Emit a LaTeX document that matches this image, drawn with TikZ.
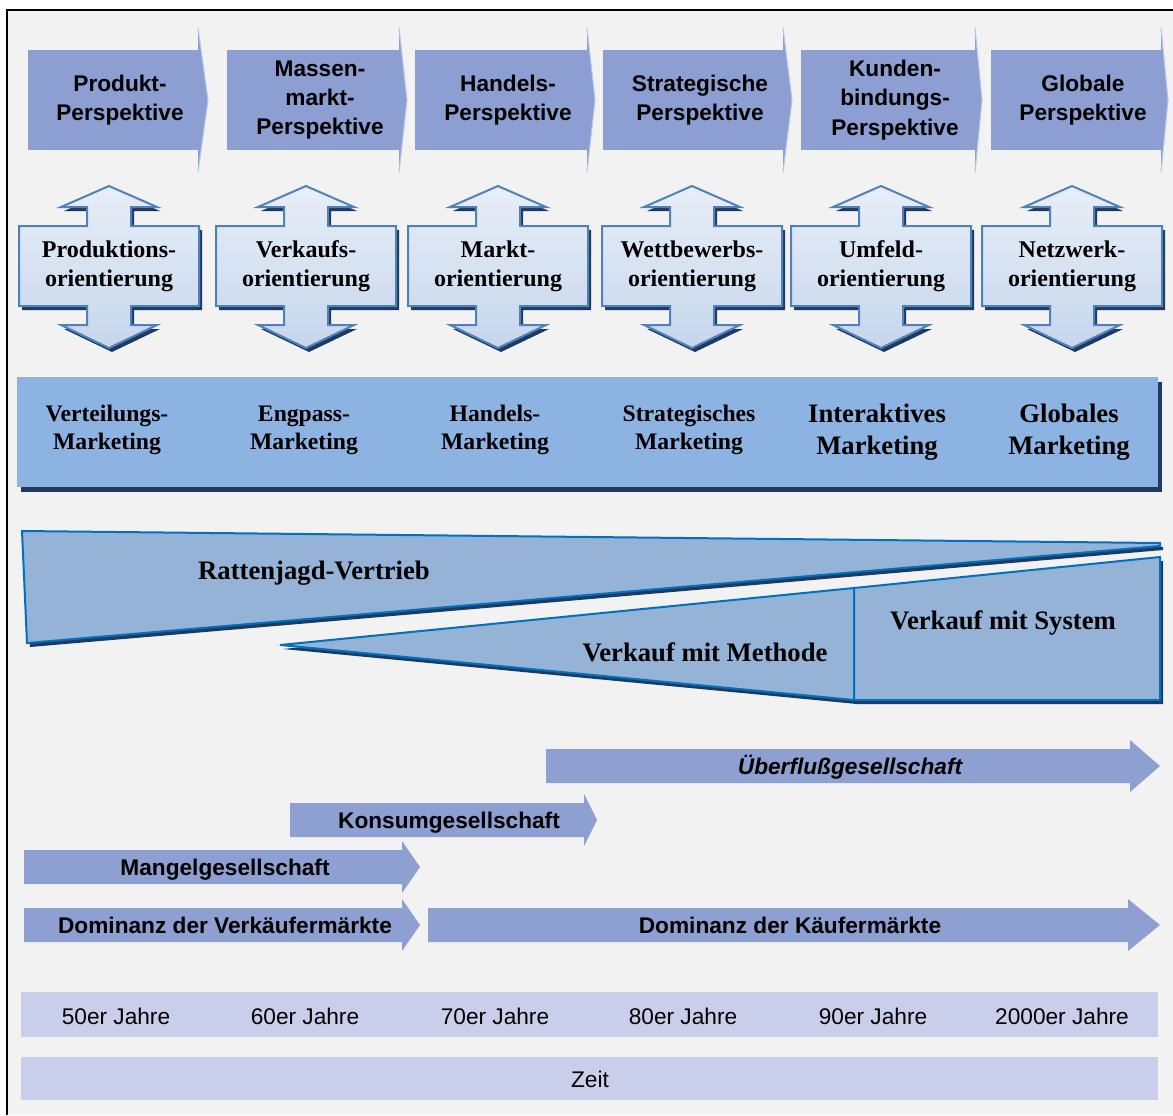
\documentclass[tikz,border=0pt]{standalone}
\usepackage{fontspec}
\setmainfont{Liberation Serif}
\setsansfont{Liberation Sans}
\usepackage{tikz}
\usetikzlibrary{calc}

\definecolor{bggray}{HTML}{F2F2F2}
\definecolor{persp}{HTML}{8C9ED2}
\definecolor{persplight}{HTML}{B8C4E8}
\definecolor{oritop}{HTML}{E8EEF8}
\definecolor{oribot}{HTML}{C6D6EC}
\definecolor{oriline}{HTML}{4F81BD}
\definecolor{navy}{HTML}{1F3A5F}
\definecolor{mktblue}{HTML}{8DB3E2}
\definecolor{wedge}{HTML}{95B3D7}
\definecolor{wedgeline}{HTML}{0070C0}
\definecolor{era}{HTML}{8EA0D2}
\definecolor{timeband}{HTML}{C9CEEB}

\tikzset{
  persptext/.style={font=\sffamily\bfseries\fontsize{17}{22}\selectfont, align=center},
  oritext/.style={font=\bfseries\fontsize{18}{21.75}\selectfont, align=center},
  mkttext/.style={font=\bfseries\fontsize{17.75}{21}\selectfont, align=center},
  mktbig/.style={font=\bfseries\fontsize{20}{24}\selectfont, align=center},
  wedgetext/.style={font=\bfseries\fontsize{20}{24}\selectfont},
  wedgebox/.style={fill=wedge, draw=wedgeline, line width=1.5pt},
  eratext/.style={font=\sffamily\bfseries\fontsize{17}{20}\selectfont, anchor=base},
  yeartext/.style={font=\sffamily\fontsize{17}{20}\selectfont},
}

\begin{document}
\begin{tikzpicture}[x=0.75pt,y=-0.75pt]
\useasboundingbox (0,0) rectangle (1173,1115);
\fill [white] (0,0) rectangle (1173,1115);
\fill [bggray] (7,10) rectangle (1173,1115);
\draw [line width=2.2pt] (7,1115) -- (7,10) -- (1173,10);

% Perspektiven
\foreach \xa/\xb/\xt/\nm/\txt in {28/198/208/persp1/{Produkt-\\Perspektive},
  227/399/407/persp2/{Massen-\\markt-\\Perspektive},
  415/587/595/persp3/{Handels-\\Perspektive},
  603/783/792/persp4/{Strategische\\Perspektive},
  801/975/982/persp5/{Kunden-\\bindungs-\\Perspektive},
  991/1161/1168/persp6/{Globale\\Perspektive}}{
  \fill [persp] (\xa,50) rectangle (\xb,150);
  \filldraw [fill=persp, draw=persplight, line width=0.8pt] (\xb,28) -- (\xt,100) -- (\xb,172);
  \node [persptext] (\nm) at ({(\xa+\xb)/2+7},100) {\txt};
}

% Orientierungen
\foreach \cx/\nm/\txt in {109/ori1/{Produktions-\\orientierung},
  306/ori2/{Verkaufs-\\orientierung},
  498/ori3/{Markt-\\orientierung},
  692/ori4/{Wettbewerbs-\\orientierung},
  881/ori5/{Umfeld-\\orientierung},
  1072/ori6/{Netzwerk-\\orientierung}}{
  \begin{scope}[shift={(\cx,0)}]
  \fill [navy, shift={(3,4)}] (0,186) -- (48,207) -- (22,207) -- (22,226) -- (90,226) -- (90,306) -- (22,306) -- (22,325) -- (48,325) -- (0,348) -- (-48,325) -- (-22,325) -- (-22,306) -- (-90,306) -- (-90,226) -- (-22,226) -- (-22,207) -- (-48,207) -- cycle;
  \shadedraw [top color=oritop, bottom color=oribot, draw=oriline, line width=1.5pt] (0,186) -- (48,207) -- (22,207) -- (22,226) -- (90,226) -- (90,306) -- (22,306) -- (22,325) -- (48,325) -- (0,348) -- (-48,325) -- (-22,325) -- (-22,306) -- (-90,306) -- (-90,226) -- (-22,226) -- (-22,207) -- (-48,207) -- cycle;
  \node [oritext] (\nm) at (0,266) {\txt};
  \end{scope}
}

% Marketing
\fill [navy] (21,382) rectangle (1162,492);
\fill [mktblue] (17,377) rectangle (1158,487);
\node [mkttext] (mkt1) at (107,430) {Verteilungs-\\Marketing};
\node [mkttext] (mkt2) at (304,430) {Engpass-\\Marketing};
\node [mkttext] (mkt3) at (495,430) {Handels-\\Marketing};
\node [mkttext] (mkt4) at (689,430) {Strategisches\\Marketing};
\node [mktbig] (mkt5) at (877,432) {Interaktives\\Marketing};
\node [mktbig] (mkt6) at (1069,432) {Globales\\Marketing};

% Vertrieb
\fill [navy] (25,535) -- (1163,547) -- (1163,550) -- (30,647) -- cycle;
\draw [wedgebox] (22,531) -- (1160,543) -- (1160,546) -- (27,643) -- cycle;
\fill [navy] (283,649) -- (1163,561) -- (1163,704) -- (857,704) -- cycle;
\draw [wedgebox] (280,645) -- (854,588) -- (854,700) -- cycle;
\draw [wedgebox] (854,588) -- (1160,557) -- (1160,700) -- (854,700) -- cycle;
\node [wedgetext] (ratten) at (314,573) {Rattenjagd-Vertrieb};
\node [wedgetext] (methode) at (705,652) {Verkauf mit Methode};
\node [wedgetext] (system) at (1003,623) {Verkauf mit System};

% Gesellschaft und Maerkte
\foreach \xa/\xb/\xt/\ym/\nm/\txt in {546/1130/1160/766/ueberfluss/{\itshape Überflußgesellschaft},
  290/584/597/820/konsum/Konsumgesellschaft,
  24/402/420/867/mangel/Mangelgesellschaft,
  24/402/420/925/domverk/{Dominanz der Verkäufermärkte},
  428/1128/1160/925/domkauf/{Dominanz der Käufermärkte}}{
  \fill [era] (\xa,\ym-17) -- (\xb,\ym-17) -- (\xb,\ym-26) -- (\xt,\ym) -- (\xb,\ym+26) -- (\xb,\ym+17) -- (\xa,\ym+17) -- cycle;
  \node [eratext] (\nm) at ({(\xa+\xb)/2+12},\ym+8) {\txt};
}

% Zeit
\fill [timeband] (21,992) rectangle (1158,1037);
\fill [timeband] (21,1057) rectangle (1158,1100);
\foreach \x/\nm/\txt in {116/y50/50er Jahre, 305/y60/60er Jahre, 495/y70/70er Jahre,
  683/y80/80er Jahre, 873/y90/90er Jahre, 1062/y2000/2000er Jahre}{
  \node [yeartext] (\nm) at (\x,1016) {\txt};
}
\node [yeartext] (zeit) at (590,1079) {Zeit};
\end{tikzpicture}
\end{document}
